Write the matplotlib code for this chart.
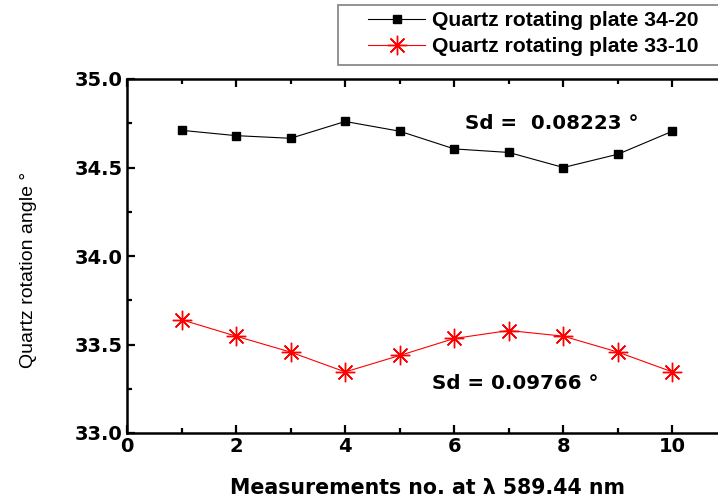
import numpy as np
import matplotlib.pyplot as plt
from matplotlib.patches import Rectangle
from matplotlib.ticker import MultipleLocator, FormatStrFormatter

plt.rcParams['font.family'] = ['Liberation Sans', 'DejaVu Sans']

# datos
measurement = [1, 2, 3, 4, 5, 6, 7, 8, 9, 10]
plate_34_20 = [34.71, 34.68, 34.665, 34.76, 34.705, 34.605, 34.585, 34.50, 34.575, 34.705]
plate_33_10 = [33.64, 33.547, 33.457, 33.345, 33.438, 33.534, 33.579, 33.547, 33.457, 33.345]
label_a = "Quartz rotating plate 34-20"
label_b = "Quartz rotating plate 33-10"
sd_a = "Sd =  0.08223 °"
sd_b = "Sd = 0.09766 °"

W, H = 718, 501
fig = plt.figure(figsize=(W / 100, H / 100), dpi=100)
ax = fig.add_axes([127 / W, 1 - 433 / H, 600 / W, (433 - 79) / H])

ax.plot(measurement, plate_34_20, color="black", lw=0.8, marker="s", ms=5.5,
        label=label_a)
ax.plot(measurement, plate_33_10, color="red", lw=0.8, marker=(8, 2, 0), ms=14,
        mew=1.0, label=label_b)

ax.set_xlim(0, 11)
ax.set_ylim(33.0, 35.0)
ax.xaxis.set_major_locator(MultipleLocator(2))
ax.xaxis.set_minor_locator(MultipleLocator(1))
ax.yaxis.set_major_locator(MultipleLocator(0.5))
ax.yaxis.set_minor_locator(MultipleLocator(0.25))
ax.yaxis.set_major_formatter(FormatStrFormatter("%.1f"))
ax.tick_params(which="both", direction="in", top=True, right=True, width=1.6)
ax.tick_params(which="major", length=6, labelsize=14, pad=3)
ax.tick_params(which="minor", length=3.5)
for lab in ax.get_xticklabels() + ax.get_yticklabels():
    lab.set_fontfamily("DejaVu Sans")
    lab.set_fontweight("bold")
for sp in ax.spines.values():
    sp.set_linewidth(1.8)

ax.text(6.2, 34.75, sd_a, fontsize=14.3, fontweight="bold", va="center",
        family="DejaVu Sans")
ax.text(5.6, 33.28, sd_b, fontsize=14.3, fontweight="bold", va="center",
        family="DejaVu Sans")

ax.set_xlabel("Measurements no. at λ 589.44 nm", fontsize=14.8,
              fontweight="bold", family="DejaVu Sans")
ax.xaxis.set_label_coords(0.5, -0.128)
ax.set_ylabel("Quartz rotation angle °", fontsize=14)
ax.yaxis.set_label_coords(-0.15, 0.462)

# caja de la leyenda (se sale por la derecha como en el original)
fig.patches.append(Rectangle((338 / W, 1 - 65 / H), 400 / W, 60 / H,
                             transform=fig.transFigure, facecolor="white",
                             edgecolor="gray", lw=1.2))
leg = fig.legend(loc="upper left", bbox_to_anchor=(368 / W, 1 - 11 / H),
                 frameon=False, prop={"weight": "bold", "size": 15.2},
                 handlelength=2.7, handletextpad=0.35,
                 borderaxespad=0, borderpad=0, labelspacing=0.33)

fig.savefig("out.png", dpi=100)
